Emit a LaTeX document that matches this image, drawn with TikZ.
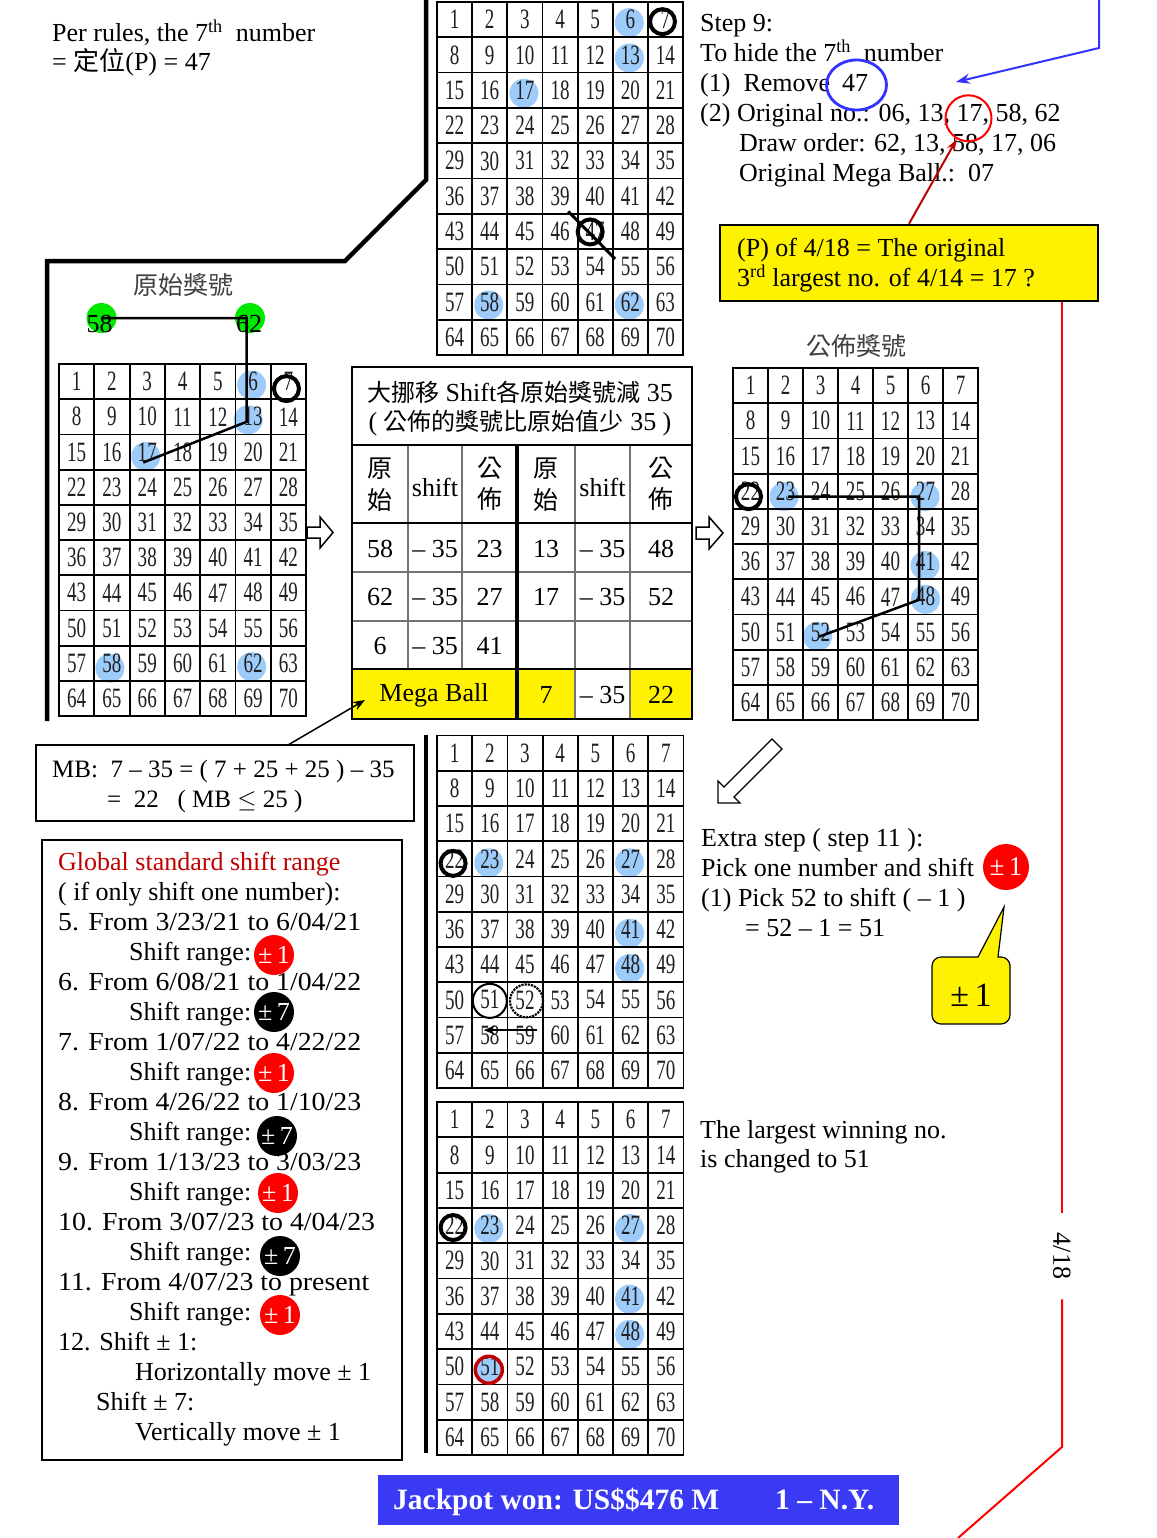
\documentclass[tikz,border=0pt]{standalone}
\usepackage{fontspec}
\setmainfont{Liberation Serif}
\newfontfamily\widefont{Liberation Serif}[FakeStretch=1.07]
\newfontfamily\cjk{Noto Sans CJK TC}
\usetikzlibrary{calc,arrows.meta}
\pgfdeclarelayer{bg}
\pgfsetlayers{bg,main}
\newcommand{\fsz}[1]{\fontsize{#1}{#1}\selectfont}
\definecolor{hlblue}{RGB}{157,203,250}
\definecolor{dred}{RGB}{192,0,0}
\definecolor{gball}{RGB}{0,232,0}
\definecolor{bannerblue}{RGB}{58,58,245}
\definecolor{ublue}{RGB}{51,51,255}
\newcommand{\lotgrid}[5]{%
  \foreach \r in {0,...,9}{%
    \foreach \c in {0,...,6}{%
      \pgfmathtruncatemacro{\n}{\r*7+\c+1}%
      \node[gcell, minimum width=#4pt, minimum height=#5pt] (#1-\n) at ({#2+(\c+0.5)*#4},{#3+(\r+0.5)*#5}) {\raisebox{-2.5pt}{\scalebox{0.68}[1]{\n}}};
    }}}
\newcommand{\hlc}[3]{\fill[hlblue] ($(#1)+(#2,#3)$) circle (14.5pt);}
\newcommand{\ringc}[3]{\draw[line width=4pt] ($(#1)+(#2,#3)$) circle (12.5pt);}
\begin{document}
\begin{tikzpicture}[x=1pt,y=-1pt,
  gcell/.style={draw, line width=1.8pt, inner sep=0pt, outer sep=0pt, font=\fsz{28}, text=black!88},
  txt/.style={anchor=base west, inner sep=0pt, font=\fsz{26}},
  wtxt/.style={anchor=base west, inner sep=0pt, font=\widefont\fsz{26}},
  ctxt/.style={inner sep=0pt, font=\fsz{26}},
  cjkl/.style={inner sep=0pt, font=\cjk\fsz{25}, text=black!75},
  cjkt/.style={inner sep=0pt, font=\cjk\fsz{25}},
  heavy/.style={line width=4.5pt},
  tline/.style={line width=1.5pt, draw=black!55},
  hollow/.style={draw, line width=1.5pt, fill=white, line join=miter},
  pmball/.style={circle, inner sep=0pt, minimum size=40pt, font=\fsz{26}, text=white},
]
\useasboundingbox (0,0) rectangle (1156,1538);
\begin{pgfonlayer}{bg}
\fill[white] (0,0) rectangle (1156,1538);
\end{pgfonlayer}

% ---------------- grids
\lotgrid{A}{437}{2}{35.15}{35.3}
\lotgrid{B}{59}{364}{35.3}{35.2}
\lotgrid{C}{733}{368}{35.0}{35.2}
\lotgrid{D}{437}{735.5}{35.2}{35.25}
\lotgrid{E}{437}{1102}{35.2}{35.3}

\begin{pgfonlayer}{bg}
\hlc{A-6}{-1}{3}\hlc{A-13}{-1}{3}\hlc{A-17}{-1}{3}\hlc{A-58}{-1}{3}\hlc{A-62}{-1}{3}
\hlc{B-6}{-1.5}{3.5}\hlc{B-13}{-5}{3}\hlc{B-17}{-1.5}{4.5}\hlc{B-58}{-2}{5}\hlc{B-62}{-1.5}{3.5}
\hlc{C-23}{-1.5}{5.5}\hlc{C-27}{-0.5}{5.5}\hlc{C-41}{-0.5}{4}\hlc{C-48}{0}{2.5}\hlc{C-52}{-3}{4.5}
\hlc{D-23}{-1}{4}\hlc{D-27}{-1}{4}\hlc{D-41}{-1}{4}\hlc{D-48}{-1}{4}
\hlc{E-23}{-1}{3}\hlc{E-27}{-1}{3}\hlc{E-41}{-1}{3}\hlc{E-48}{-1}{3}\hlc{E-51}{-1}{3}
\end{pgfonlayer}

\ringc{A-7}{-3}{2}
\ringc{A-47}{-5}{0.5}
\draw[line width=3pt] ($(A-47)+(-27,-20)$) -- ($(A-47)+(20,27.5)$);
\ringc{B-7}{-2}{7}
\ringc{C-22}{-2}{5.5}
\ringc{D-22}{-1.5}{4.5}
\ringc{E-22}{-1.5}{2}
\draw[line width=3.5pt, dred] ($(E-51)+(-1,3)$) circle (13.5pt);
\draw[line width=2pt] ($(D-51)+(0,1)$) circle (17pt);
\draw[line width=2.2pt, densely dotted] ($(D-52)+(1.5,1)$) circle (16.5pt);
\draw[line width=2.5pt, -{Stealth[length=11pt,width=9pt]}] ($(D-59)+(11.5,-5)$) -- ($(D-58)+(-6,-5)$);

% ---------------- top-left text and heavy frame
\node[txt] (per1) at (52,41.7) {Per rules, the 7\textsuperscript{th}\ \ number};
\node[txt] (per2) at (52,71) {= {\cjk 定位}(P) = 47};
\draw[heavy] (426,0) -- (426,180) -- (345,261) -- (47,261) -- (47,721);
\draw[heavy] (426,735) -- (426,1453);

\node[cjkl] (yslabel) at (183,285) {原始獎號};
\node[cjkl] (gblabel) at (856,346) {公佈獎號};

\node[circle, fill=gball, minimum size=30pt, inner sep=0pt] (g58) at (101.5,318) {};
\node[circle, fill=gball, minimum size=30pt, inner sep=0pt] (g62) at (250,318) {};
\node[ctxt] (t58) at (99.5,324) {58};
\node[ctxt] (t62) at (249,324) {62};
\coordinate (b13p) at ($(B-13)+(-6.5,5)$);
\coordinate (b17p) at ($(B-17)+(-4,10.5)$);
\draw[line width=2.5pt] (g58.center) -- (b13p |- g58.center) -- (b13p) -- (b17p);

\coordinate (c23p) at ($(C-23)+(2.5,5.5)$);
\coordinate (c27p) at ($(C-27)+(-6.5,5.5)$);
\coordinate (c48p) at ($(C-48)+(-6.5,3)$);
\coordinate (c52p) at ($(C-52)+(-1.5,4.7)$);
\draw[line width=2.5pt] (c23p) -- (c27p) -- (c48p) -- (c52p);

% hollow arrows
\draw[hollow] (307,527) -- (320,527) -- (320,517) -- (333,532.5) -- (320,548) -- (320,538) -- (307,538) -- cycle;
\draw[hollow] (696,527) -- (709,527) -- (709,517) -- (723,533) -- (709,549) -- (709,539) -- (696,539) -- cycle;
\draw[line width=1.2pt, fill=white, line join=miter] (718,803) -- (718,781) -- (724,787) -- (772,739) -- (782,749) -- (734,797) -- (740,803) -- cycle;

% ---------------- table
\fill[yellow] (352,669) rectangle (517,719);
\fill[yellow] (517,669) rectangle (575,719);
\fill[yellow] (630,669) rectangle (692,719);
\draw[tline] (408,445) -- (408,669) (462,445) -- (462,669) (575,445) -- (575,719) (630,445) -- (630,719);
\draw[tline] (352,572) -- (692,572) (352,621) -- (692,621);
\draw[line width=1.8pt] (352,445) -- (692,445) (352,523) -- (692,523) (352,669) -- (692,669);
\draw[line width=3.5pt] (517,445) -- (517,719);
\draw[line width=2.5pt] (352,367) rectangle (692,719);
\node[ctxt] (th1) at (520,392) {{\cjk\fsz{24}大挪移} Shift{\cjk\fsz{24}各原始獎號減} 35};
\node[ctxt] (th2) at (520,423) {( {\cjk\fsz{24}公佈的獎號比原始值少} 35 )};
\foreach \cx/\nm in {380/a,546/b}{
  \node[cjkt] (ya-\nm) at (\cx,469) {原};
  \node[cjkt] (sh-\nm) at (\cx,500) {始};
}
\foreach \cx/\nm in {489.5/a,661/b}{
  \node[cjkt] (ga-\nm) at (\cx,468) {公};
  \node[cjkt] (gb-\nm) at (\cx,499) {佈};
}
\node[ctxt] (sft-a) at (435,487) {shift};
\node[ctxt] (sft-b) at (602.5,487) {shift};
\node[ctxt] (r1c1) at (380,549) {58};
\node[ctxt] (r1c2) at (435,549) {– 35};
\node[ctxt] (r1c3) at (489.5,549) {23};
\node[ctxt] (r1c4) at (546,549) {13};
\node[ctxt] (r1c5) at (602.5,549) {– 35};
\node[ctxt] (r1c6) at (661,549) {48};
\node[ctxt] (r2c1) at (380,597) {62};
\node[ctxt] (r2c2) at (435,597) {– 35};
\node[ctxt] (r2c3) at (489.5,597) {27};
\node[ctxt] (r2c4) at (546,597) {17};
\node[ctxt] (r2c5) at (602.5,597) {– 35};
\node[ctxt] (r2c6) at (661,597) {52};
\node[ctxt] (r3c1) at (380,646) {6};
\node[ctxt] (r3c2) at (435,646) {– 35};
\node[ctxt] (r3c3) at (489.5,646) {41};
\node[ctxt] (mega) at (434,695) {Mega Ball};
\node[ctxt] (r4c4) at (546,695) {7};
\node[ctxt] (r4c5) at (602.5,695) {– 35};
\node[ctxt] (r4c6) at (661,695) {22};

% ---------------- MB box
\node[draw, line width=2.5pt, minimum width=378pt, minimum height=76pt, inner sep=0pt] (mbbox) at (225,783) {};
\node[txt, font=\fsz{25}] (mb1) at (52,777) {MB:\ \ 7 – 35 = ( 7 + 25 + 25 ) – 35};
\node[txt, font=\fsz{25}] (mb2) at (107,807) {=\ \ 22\ \ \ ( MB \ensuremath{\leq} 25 )};
\coordinate (mbt) at (288,745);
\coordinate (megatip) at (365,700);
\draw[line width=1.5pt, -{Stealth[length=12pt,width=9pt]}] (mbt) -- (megatip);

% ---------------- global box
\node[draw, line width=2pt, minimum width=360pt, minimum height=620pt, inner sep=0pt] (glbox) at (222,1150) {};
\node[txt, text=dred] (gl0) at (58,870) {Global standard shift range};
\node[txt] (gl1) at (58,900) {( if only shift one number):};
\node[wtxt] (gl2) at (58,930) {5. From 3/23/21 to 6/04/21};
\node[txt] (gl3) at (129,960) {Shift range:};
\node[wtxt] (gl4) at (58,990) {6. From 6/08/21 to 1/04/22};
\node[txt] (gl5) at (129,1020) {Shift range:};
\node[wtxt] (gl6) at (58,1050) {7. From 1/07/22 to 4/22/22};
\node[txt] (gl7) at (129,1080) {Shift range:};
\node[wtxt] (gl8) at (58,1110) {8. From 4/26/22 to 1/10/23};
\node[txt] (gl9) at (129,1140) {Shift range:};
\node[wtxt] (gl10) at (58,1170) {9. From 1/13/23 to 3/03/23};
\node[txt] (gl11) at (129,1200) {Shift range:};
\node[wtxt] (gl12) at (58,1230) {10. From 3/07/23 to 4/04/23};
\node[txt] (gl13) at (129,1260) {Shift range:};
\node[wtxt] (gl14) at (58,1290) {11. From 4/07/23 to present};
\node[txt] (gl15) at (129,1320) {Shift range:};
\node[txt] (gl16) at (58,1350) {12. Shift ± 1:};
\node[txt] (gl17) at (135,1380) {Horizontally move ± 1};
\node[txt] (gl18) at (96,1410) {Shift ± 7:};
\node[txt] (gl19) at (135,1440) {Vertically move ± 1};
\node[pmball, fill=red] (pm3) at (274,955) {±\,1};
\node[pmball, fill=black] (pm5) at (274,1012) {±\,7};
\node[pmball, fill=red] (pm7) at (274,1073) {±\,1};
\node[pmball, fill=black] (pm9) at (277,1136) {±\,7};
\node[pmball, fill=red] (pm11) at (278,1193) {±\,1};
\node[pmball, fill=black] (pm13) at (280,1256) {±\,7};
\node[pmball, fill=red] (pm15) at (280,1315) {±\,1};

% ---------------- step 9 text
\node[txt] (s1) at (700,31.7) {Step 9:};
\node[txt] (s2) at (700,61.7) {To hide the 7\textsuperscript{th}\ \ number};
\node[txt] (s3) at (700,91.7) {(1)\ \ Remove};
\node[txt] (n47) at (842,91.7) {47};
\node[txt] (s4) at (700,121.7) {(2) Original no.: 06, 13, 17, 58, 62};
\node[txt] (s5) at (739,151.7) {Draw order: 62, 13, 58, 17, 06};
\node[txt] (s6) at (739,181.7) {Original Mega Ball.:\ \ 07};
\draw[ublue, line width=2.8pt] (856.5,85) ellipse (30pt and 25pt);
\node[circle, draw=red, line width=2pt, minimum size=46pt, inner sep=0pt] (c17) at (968.5,118.3) {};
\coordinate (bstart) at (1099,0);
\coordinate (bbend) at (1099,48);
\coordinate (bend) at (956,82);
\draw[ublue, line width=2pt, -{Stealth[length=14pt,width=10pt]}] (bstart) -- (bbend) -- (bend);

\node[draw, fill=yellow, line width=2.5pt, minimum width=378pt, minimum height=76pt, inner sep=0pt] (ybox) at (909,263) {};
\node[txt] (y1) at (737,256.7) {(P) of 4/18 = The original};
\node[txt] (y2) at (737,286.7) {3\textsuperscript{rd} largest no. of 4/14 = 17 ?};
\draw[dred, line width=2pt, -{Stealth[length=12pt,width=8pt]}] (ybox.north) -- (c17);

\node[rotate=-90, font=\fsz{26}, inner xsep=20pt, inner ysep=2pt] (d418) at (1062,1256) {4/18};
\draw[red, line width=2pt] (ybox.south -| d418) -- (d418.west);
\coordinate (rbend) at (1062,1447);
\coordinate (rend) at (958,1538);
\draw[red, line width=2pt] (d418.east) -- (rbend) -- (rend);

% ---------------- extra step
\node[txt] (x1) at (701,846.7) {Extra step ( step 11 ):};
\node[txt] (x2) at (701,876.7) {Pick one number and shift};
\node[txt] (x3) at (701,906.7) {(1) Pick 52 to shift ( – 1 )};
\node[txt] (x4) at (745,936.7) {= 52 – 1 = 51};
\node[pmball, fill=red, minimum size=46pt, font=\fsz{27}] (xpm) at (1006,867) {±\,1};
\draw[fill=yellow, line width=1.2pt] (932,990) [rounded corners=9pt] -- (932,957) [sharp corners] -- (978,957) -- (1004,907) -- (998,957) [rounded corners=9pt] -- (1010,957) -- (1010,1024) -- (932,1024) [sharp corners] -- cycle;
\node[ctxt, font=\fsz{34}] (callout) at (971,995) {±\,1};

\node[txt] (lw1) at (700,1138) {The largest winning no.};
\node[txt] (lw2) at (700,1167) {is changed to 51};

% ---------------- banner
\node[fill=bannerblue, minimum width=521pt, minimum height=50pt, inner sep=0pt] (banner) at (638.5,1500) {};
\node[txt, font=\bfseries\fsz{29.5}, text=white] (bn1) at (393,1509) {Jackpot won: US\$\$476 M};
\node[txt, font=\bfseries\fsz{29.5}, text=white] (bn2) at (775,1509) {1 – N.Y.};
\end{tikzpicture}
\end{document}
